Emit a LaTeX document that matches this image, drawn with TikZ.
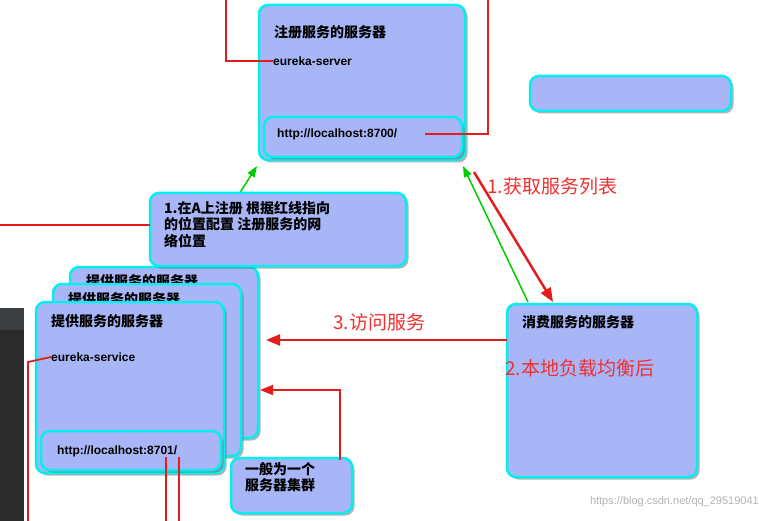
\documentclass[tikz,border=0pt]{standalone}
\usepackage{fontspec}
\setmainfont{Liberation Sans}
\newfontfamily\cjk{Noto Sans CJK SC}
\usetikzlibrary{shadows,arrows.meta}
\definecolor{boxfill}{HTML}{A8B6F7}
\definecolor{boxline}{HTML}{00F0F0}
\definecolor{redl}{HTML}{E41C1C}
\definecolor{lbl}{HTML}{F03030}
\definecolor{darkp}{HTML}{2B2B2B}
\definecolor{darkh}{HTML}{3C3F41}
\tikzset{
  box/.style={draw=boxline, line width=2.5pt, fill=boxfill, rounded corners=9pt,
    drop shadow={shadow xshift=2.5pt, shadow yshift=-2.5pt, fill=black!60}},
  redline/.style={draw=redl, line width=1.8pt},
  greenarrow/.style={draw=green!80!black, line width=1.5pt, -{Triangle[length=11pt,width=8pt]}},
  redarrow/.style={draw=redl, line width=2.5pt, -{Triangle[length=14pt,width=11pt]}},
  bt/.style={font=\cjk\bfseries\fontsize{14}{15}\selectfont, anchor=west, inner sep=0},
  lt/.style={font=\bfseries\fontsize{12}{13}\selectfont, anchor=west, inner sep=0},
  rt/.style={text=lbl, font=\cjk\fontsize{19}{21}\selectfont, anchor=west, inner sep=0},
  mt/.style={anchor=north west, inner sep=0, font=\cjk\bfseries\fontsize{14}{16.5}\selectfont, align=left},
}
\begin{document}
\begin{tikzpicture}[x=1pt,y=-1pt]
\useasboundingbox (0,0) rectangle (759,521);
% dark panel
\fill[darkp] (0,308) rectangle (24,521);
\fill[darkh] (0,308) rectangle (24,330);
% green arrows behind
\coordinate (srvbl) at (257,166);
\coordinate (srvbr) at (463,166);
\coordinate (stk) at (170,302);
\draw[greenarrow] (stk) -- (srvbl);
\draw[greenarrow] (528,302) -- (srvbr);
% server
\path[box] (259,5) rectangle (465,160);
\path[box] (264,117) rectangle (462,157);
\node[bt] (srvt) at (274,32) {注册服务的服务器};
\node[lt] (srvn) at (273,61) {eureka-server};
\node[lt] (srvu) at (277,134) {http://localhost:8700/};
\draw[redline] (srvn.west) -- (226,61) -- (226,0);
\draw[redline] (425,134) -- (488,134) -- (488,0);
% empty box
\path[box] (530,76) rectangle (731,111);
% stack
\path[box] (70,267) rectangle (258,438);
\begin{scope}
\clip (70,267) rectangle (258,287);
\node[bt] at (86,281) {提供服务的服务器};
\end{scope}
\path[box] (53,284) rectangle (241,456);
\begin{scope}
\clip (53,284) rectangle (241,304);
\node[bt] at (68,299) {提供服务的服务器};
\end{scope}
\path[box] (36,302) rectangle (224,473);
\node[bt] (prv) at (51,321) {提供服务的服务器};
\node[lt] (prvn) at (51,357) {eureka-service};
\path[box] (41,431) rectangle (221,470);
\node[lt] (prvu) at (57,451) {http://localhost:8701/};
\draw[redline] (prvn.west) -- (28,362) -- (28,521);
\draw[redline] (166,457) -- (166,521);
\draw[redline] (179,457) -- (179,521);
% note
\path[box] (150,193) rectangle (406,266);
\node[mt] (note) at (164,201) {1.在A上注册 根据红线指向\\的位置配置 注册服务的网\\络位置};
\draw[redline] (0,225) -- (150,225);
% cluster
\path[box] (231,458) rectangle (352,513);
\node[mt] (clu) at (245,462) {一般为一个\\服务器集群};
\coordinate (cluin) at (260,390);
\draw[redline, -{Triangle[length=13pt,width=10pt]}] (340,460) -- (340,390) -- (cluin);
% consumer
\path[box] (507,304) rectangle (697,477);
\node[bt] (con) at (522,322) {消费服务的服务器};
\coordinate (conl) at (507,340);
\coordinate (acc) at (266,340);
\draw[redarrow] (conl) -- (acc);
\node[rt] at (333,322) {3.访问服务};
\draw[redarrow] (474,172) -- (553,302);
\node[rt] at (487,186) {1.获取服务列表};
\node[rt] at (505,368) {2.本地负载均衡后};
\node[anchor=east, text=gray!60, font=\fontsize{11}{12}\selectfont, inner sep=0] at (759,502) {https://blog.csdn.net/qq\_29519041};
\end{tikzpicture}
\end{document}
